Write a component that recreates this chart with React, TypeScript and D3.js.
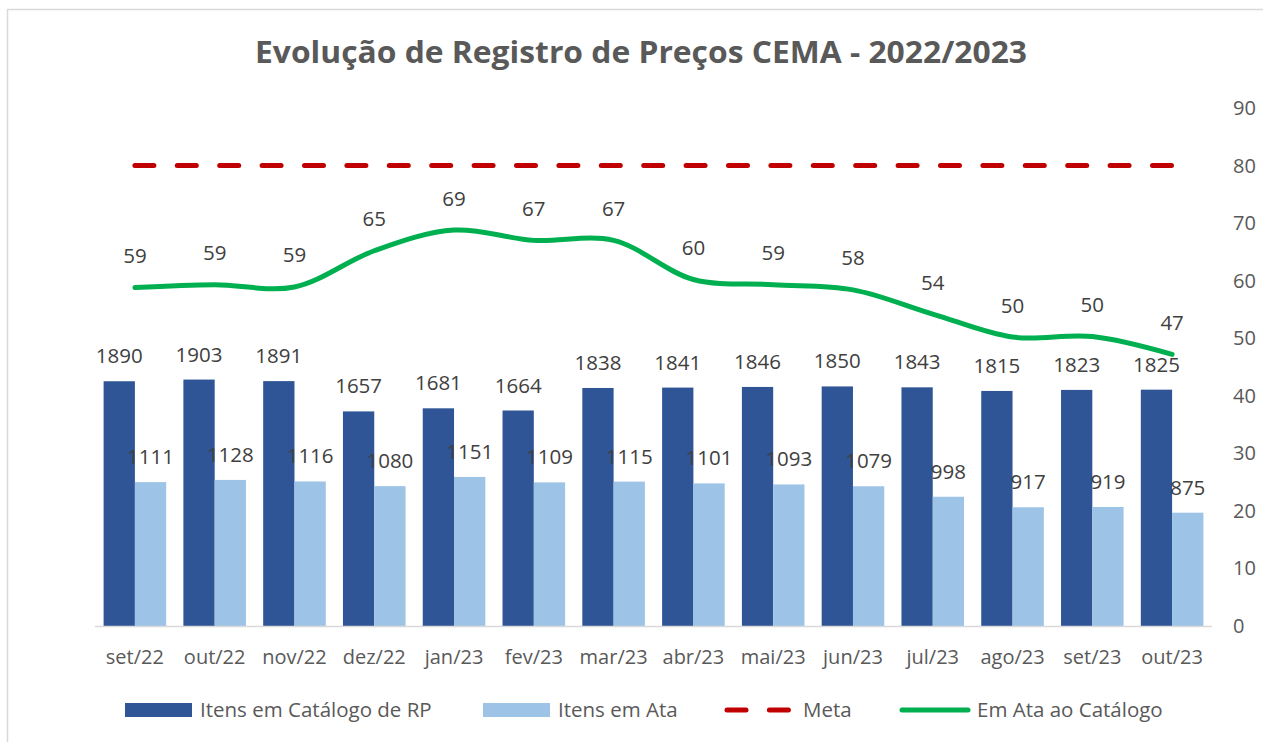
import React from "react";
import * as d3 from "d3";

const months = [
  "set/22", "out/22", "nov/22", "dez/22", "jan/23", "fev/23", "mar/23",
  "abr/23", "mai/23", "jun/23", "jul/23", "ago/23", "set/23", "out/23",
];
const catalogo = [1890, 1903, 1891, 1657, 1681, 1664, 1838, 1841, 1846, 1850, 1843, 1815, 1823, 1825];
const ata = [1111, 1128, 1116, 1080, 1151, 1109, 1115, 1101, 1093, 1079, 998, 917, 919, 875];
const emAta = [58.8, 59.3, 58.9, 65.2, 68.8, 67.0, 67.0, 60.2, 59.3, 58.4, 54.2, 50.2, 50.3, 47.2];
const meta = 80;
const rightTicks = [0, 10, 20, 30, 40, 50, 60, 70, 80, 90];

const W = 1263;
const H = 742;
const font = "'Open Sans', 'Noto Sans', sans-serif";
const dark = "#2F5597";
const light = "#9DC3E6";
const red = "#C00000";
const green = "#00B050";

export default function App() {
  const x = d3.scaleBand<string>().domain(months).range([95, 1212]);
  const sub = d3
    .scaleBand<string>()
    .domain(["cat", "ata"])
    .range([0, x.bandwidth()])
    .paddingInner(0)
    .paddingOuter(0.275);
  const yBar = d3.scaleLinear().domain([0, 4000]).range([626, 108]);
  const yPct = d3.scaleLinear().domain([0, 90]).range([626, 108]);
  const cx = (m: string) => (x(m) as number) + x.bandwidth() / 2;

  const line = d3
    .line<number>()
    .x((_, i) => cx(months[i]))
    .y((d) => yPct(d))
    .curve(d3.curveCatmullRom.alpha(0.5));

  const fmt = d3.format(".0f");

  return (
    <svg width={W} height={H} style={{ position: "absolute", left: 0, top: 0 }} fontFamily={font}>
      <rect x={0} y={0} width={W} height={H} fill="#fff" />
      <rect x={7.5} y={9.5} width={W + 10} height={H + 10} fill="none" stroke="#D9D9D9" strokeWidth={1.5} />

      <text
        x={255}
        y={63}
        fontSize={30}
        fontWeight="bold"
        fill="#595959"
        textLength={772}
        lengthAdjust="spacingAndGlyphs"
      >
        Evolução de Registro de Preços CEMA - 2022/2023
      </text>

      {/* right axis */}
      {rightTicks.map((t) => (
        <text key={t} x={1233} y={yPct(t) + 7} fontSize={20} fill="#595959">
          {t}
        </text>
      ))}

      {/* bars */}
      {months.map((m, i) => (
        <g key={m}>
          <rect
            x={(x(m) as number) + (sub("cat") as number)}
            y={yBar(catalogo[i])}
            width={sub.bandwidth()}
            height={yBar(0) - yBar(catalogo[i])}
            fill={dark}
          />
          <rect
            x={(x(m) as number) + (sub("ata") as number)}
            y={yBar(ata[i])}
            width={sub.bandwidth()}
            height={yBar(0) - yBar(ata[i])}
            fill={light}
          />
        </g>
      ))}

      <line x1={95} x2={1212} y1={626.5} y2={626.5} stroke="#D9D9D9" strokeWidth={1.5} />

      {/* meta */}
      <line
        x1={cx(months[0])}
        x2={cx(months[months.length - 1])}
        y1={yPct(meta)}
        y2={yPct(meta)}
        stroke={red}
        strokeWidth={5}
        strokeLinecap="round"
        strokeDasharray="19 23.4"
      />

      {/* em ata ao catalogo */}
      <path d={line(emAta) ?? ""} fill="none" stroke={green} strokeWidth={5} strokeLinecap="round" />

      {/* labels */}
      {months.map((m, i) => (
        <g key={"l" + m} fontSize={20.5} fill="#404040" textAnchor="middle">
          <text x={(x(m) as number) + (sub("cat") as number) + sub.bandwidth() / 2} y={yBar(catalogo[i]) - 18}>
            {catalogo[i]}
          </text>
          <text x={(x(m) as number) + (sub("ata") as number) + sub.bandwidth() / 2} y={yBar(ata[i]) - 18}>
            {ata[i]}
          </text>
          <text x={cx(m)} y={yPct(emAta[i]) - 24.5}>
            {fmt(emAta[i])}
          </text>
        </g>
      ))}

      {/* x axis labels */}
      {months.map((m) => (
        <text key={"x" + m} x={cx(m)} y={664} fontSize={20} fill="#595959" textAnchor="middle">
          {m}
        </text>
      ))}

      {/* legend */}
      <g fontSize={20.5} fill="#595959">
        <rect x={125} y={703} width={67} height={14} fill={dark} />
        <text x={200} y={717}>Itens em Catálogo de RP</text>
        <rect x={483} y={703} width={67} height={14} fill={light} />
        <text x={558} y={717}>Itens em Ata</text>
        <line x1={727} x2={793} y1={710} y2={710} stroke={red} strokeWidth={5} strokeLinecap="round" strokeDasharray="19 23.4" />
        <text x={803} y={717}>Meta</text>
        <line x1={902} x2={968} y1={710} y2={710} stroke={green} strokeWidth={5} strokeLinecap="round" />
        <text x={977} y={717}>Em Ata ao Catálogo</text>
      </g>
    </svg>
  );
}
